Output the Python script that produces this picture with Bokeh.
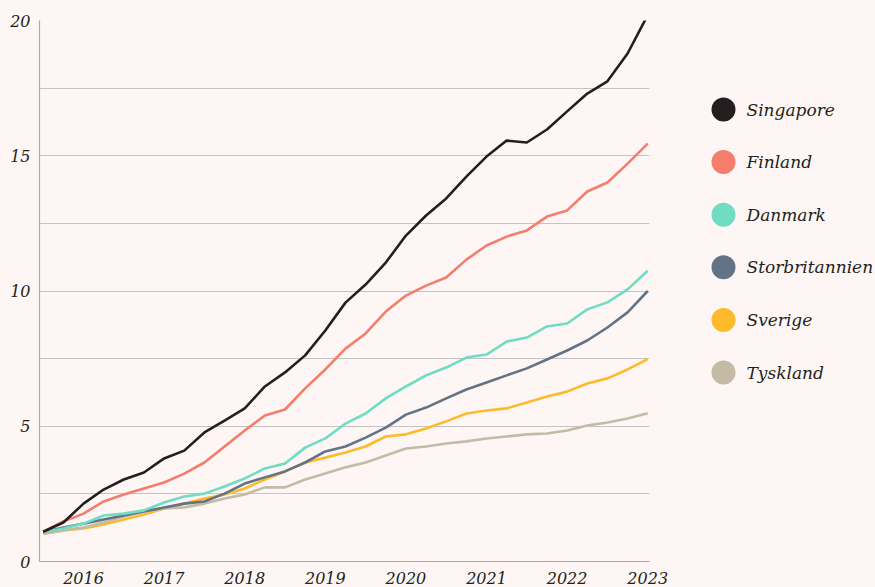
from bokeh.plotting import figure
from bokeh.layouts import row
from bokeh.models import FixedTicker, Range1d, PrintfTickFormatter, ColumnDataSource
from bokeh.core.properties import value
from bokeh.embed import file_html
from bokeh.resources import INLINE

# ---- data ----
months = ["2015-07", "2015-10", "2016-01", "2016-04", "2016-07", "2016-10",
          "2017-01", "2017-04", "2017-07", "2017-10", "2018-01", "2018-04",
          "2018-07", "2018-10", "2019-01", "2019-04", "2019-07", "2019-10",
          "2020-01", "2020-04", "2020-07", "2020-10", "2021-01", "2021-04",
          "2021-07", "2021-10", "2022-01", "2022-04", "2022-07", "2022-10",
          "2023-01"]

singapore = [1.10, 1.44, 2.14, 2.66, 3.03, 3.29, 3.81, 4.10, 4.77, 5.21, 5.66,
             6.47, 6.99, 7.62, 8.54, 9.57, 10.24, 11.05, 12.05, 12.79, 13.42,
             14.23, 14.97, 15.56, 15.49, 15.97, 16.64, 17.30, 17.75, 18.78, 20.20]
finland = [1.10, 1.48, 1.77, 2.22, 2.48, 2.70, 2.92, 3.25, 3.66, 4.25, 4.84,
           5.40, 5.62, 6.40, 7.10, 7.87, 8.43, 9.24, 9.83, 10.20, 10.50,
           11.16, 11.68, 12.01, 12.24, 12.75, 12.98, 13.68, 14.01, 14.71, 15.45]
danmark = [1.08, 1.22, 1.40, 1.70, 1.77, 1.89, 2.18, 2.40, 2.51, 2.77, 3.07,
           3.44, 3.62, 4.21, 4.55, 5.10, 5.47, 6.03, 6.47, 6.88, 7.17,
           7.54, 7.65, 8.13, 8.28, 8.69, 8.80, 9.32, 9.58, 10.06, 10.75]
storbritannien = [1.08, 1.26, 1.40, 1.55, 1.70, 1.85, 2.00, 2.14, 2.22, 2.51, 2.88,
                  3.11, 3.33, 3.66, 4.07, 4.25, 4.58, 4.95, 5.43, 5.69, 6.03,
                  6.36, 6.62, 6.88, 7.14, 7.47, 7.80, 8.17, 8.65, 9.21, 10.00]
sverige = [1.03, 1.15, 1.22, 1.37, 1.55, 1.74, 1.96, 2.14, 2.33, 2.48, 2.70,
           3.03, 3.33, 3.66, 3.84, 4.03, 4.25, 4.62, 4.70, 4.92, 5.18,
           5.47, 5.58, 5.66, 5.88, 6.10, 6.28, 6.58, 6.77, 7.10, 7.48]
tyskland = [1.03, 1.15, 1.26, 1.44, 1.66, 1.85, 1.96, 2.00, 2.14, 2.33, 2.48,
            2.74, 2.74, 3.03, 3.25, 3.48, 3.66, 3.92, 4.18, 4.25, 4.36,
            4.44, 4.55, 4.62, 4.70, 4.73, 4.84, 5.03, 5.14, 5.29, 5.48]

country_names = ["Singapore", "Finland", "Danmark", "Storbritannien", "Sverige", "Tyskland"]
country_values = [singapore, finland, danmark, storbritannien, sverige, tyskland]
country_colors = ["#231f20", "#f47d6b", "#6fdcc3", "#637387", "#fdbb2c", "#c4bba7"]

x_ticks = [2016, 2017, 2018, 2019, 2020, 2021, 2022, 2023]
y_ticks = [0, 5, 10, 15, 20]
y_grid = [2.5, 5, 7.5, 10, 12.5, 15, 17.5]

# ---- helpers ----
def to_year(s):
    y, m = s.split("-")
    return int(y) + (int(m) - 1) / 12.0

xs = [to_year(s) for s in months]

BG = "#fdf6f4"
FONT = "DejaVu Serif"
TXT = "#231f20"
W, H = 875, 587
MAIN_W = 672
FRAME_L, FRAME_R, FRAME_T, FRAME_B = 39, 649, 20, 561

# ---- main chart ----
p = figure(width=MAIN_W, height=H, output_backend="svg", toolbar_location=None,
           x_range=Range1d(2015.454, 2023.022), y_range=Range1d(0, 20),
           min_border_left=FRAME_L, min_border_right=MAIN_W - FRAME_R,
           min_border_top=FRAME_T, min_border_bottom=H - FRAME_B)
p.background_fill_color = BG
p.border_fill_color = BG
p.outline_line_color = None

draw_order = [4, 5, 3, 2, 1, 0]
for i in draw_order:
    src = ColumnDataSource(dict(x=xs, y=country_values[i]))
    p.line("x", "y", source=src, line_color=country_colors[i], line_width=2.6,
           line_join="round")

for ax in (p.xaxis[0], p.yaxis[0]):
    ax.axis_line_color = "#aaaaaa"
    ax.axis_line_width = 1.2
    ax.major_tick_line_color = None
    ax.minor_tick_line_color = None
    ax.major_label_text_font = FONT
    ax.major_label_text_font_style = "italic"
    ax.major_label_text_font_size = "16px"
    ax.major_label_text_color = TXT

p.xaxis[0].ticker = FixedTicker(ticks=x_ticks)
p.xaxis[0].formatter = PrintfTickFormatter(format="%d")
p.xaxis[0].major_label_standoff = 4
p.yaxis[0].ticker = FixedTicker(ticks=y_ticks)
p.yaxis[0].formatter = PrintfTickFormatter(format="%d")
p.yaxis[0].major_label_standoff = 3

p.xgrid.visible = False
p.ygrid[0].ticker = FixedTicker(ticks=y_grid)
p.ygrid[0].grid_line_color = "#c4c4c4"
p.ygrid[0].grid_line_width = 1.2

# ---- legend panel (ranges in page pixels; frame aligned with main frame) ----
lg = figure(width=W - MAIN_W, height=H, output_backend="svg", toolbar_location=None,
            x_range=Range1d(MAIN_W, W), y_range=Range1d(FRAME_B, FRAME_T),
            x_axis_type=None, y_axis_type=None,
            min_border_left=0, min_border_right=0, min_border_top=FRAME_T,
            min_border_bottom=H - FRAME_B)
lg.background_fill_color = BG
lg.border_fill_color = BG
lg.outline_line_color = None
lg.xgrid.visible = False
lg.ygrid.visible = False

n = len(country_names)
row_y = [109 + 52.6 * k for k in range(n)]
lsrc = ColumnDataSource(dict(x=[723] * n, tx=[746] * n,
                             y=row_y, name=country_names, color=country_colors))
lg.scatter("x", "y", source=lsrc, size=24, fill_color="color", line_color=None,
           marker="circle")
lg.text("tx", "y", text="name", source=lsrc, text_font=value(FONT),
        text_font_style="italic", text_font_size="17px", text_color=TXT,
        text_baseline="middle", text_align="left")

layout = row(p, lg, spacing=0)

html = file_html(layout, INLINE)
html = html.replace("<head>", "<head><style>html,body{background:#fdf6f4;}</style>", 1)
open("out.html", "w").write(html)
